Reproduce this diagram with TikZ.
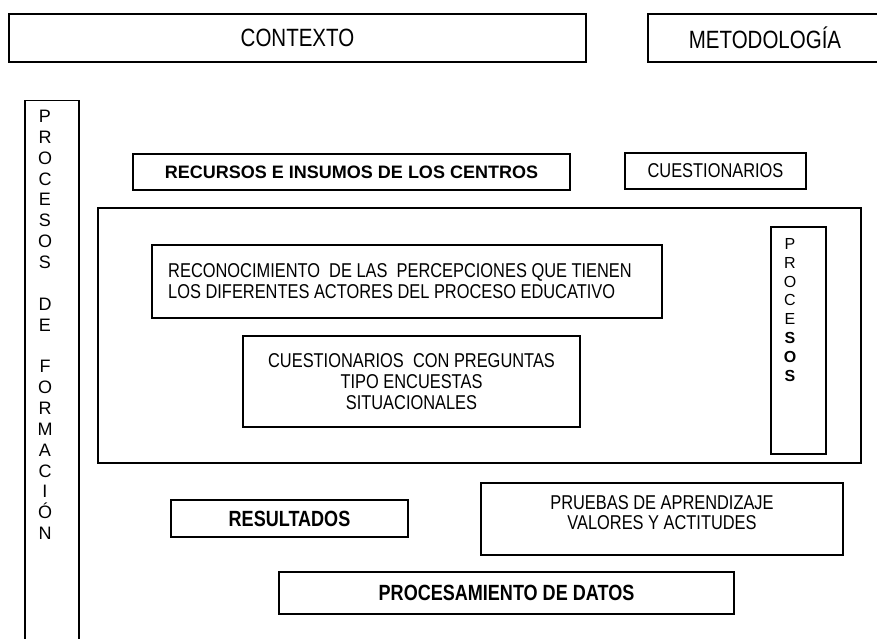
\documentclass[tikz,border=0pt]{standalone}
\usepackage{fontspec}
\setmainfont{Liberation Sans}
\newfontfamily\narrowfont{Liberation Sans}[FakeStretch=0.82]
\usetikzlibrary{positioning}

\begin{document}
\begin{tikzpicture}[
  x=1pt, y=-1pt,
  box/.style = {draw, line width=1.2pt, inner sep=0pt, align=center},
  topbox/.style = {box, line width=1.6pt, minimum height=48pt},
  bigtxt/.style = {font=\narrowfont\fontsize{25}{27}\selectfont},
  txt/.style = {font=\narrowfont\fontsize{20}{21}\selectfont},
  boldtxt/.style = {font=\narrowfont\bfseries\fontsize{22}{24}\selectfont},
  letters/.style = {align=center, inner sep=0pt, anchor=north}
]
  \useasboundingbox (0,0) rectangle (877,638);
  \clip (0,0) rectangle (877,638);

  % Contexto y metodologia
  \node[topbox, bigtxt, minimum width=577pt] (contexto) at (297.5,38) {CONTEXTO};
  \node[topbox, bigtxt, minimum width=234pt] (metodologia) at (765,38) {METODOLOGÍA};

  % Procesos de formacion
  \node[box, minimum width=54pt, minimum height=560pt, anchor=north] (formacion) at (52,100) {};
  \node[letters, font=\fontsize{18}{20.85}\selectfont] (formaciontxt) at (45,110)
    {P\\R\\O\\C\\E\\S\\O\\S\\[20.85pt]D\\E\\[20.85pt]F\\O\\R\\M\\A\\C\\I\\Ó\\N};

  % Recursos y cuestionarios
  \node[box, minimum width=437pt, minimum height=36pt, font=\bfseries\fontsize{18}{20}\selectfont] (recursos) at (351.5,172) {RECURSOS E INSUMOS DE LOS CENTROS};
  \node[box, txt, minimum width=181pt, minimum height=36pt] (cuestionarios) at (715.5,171) {CUESTIONARIOS};

  % Marco del proceso
  \node[box, minimum width=763pt, minimum height=255pt] (proceso) at (479.5,335.5) {};
  \node[box, txt, minimum width=510pt, minimum height=73pt, align=left] (reconocimiento) at (407,281.5)
    {RECONOCIMIENTO\ \ DE LAS\ \ PERCEPCIONES QUE TIENEN\hspace*{14pt}\\LOS DIFERENTES ACTORES DEL PROCESO EDUCATIVO};
  \node[box, txt, minimum width=337pt, minimum height=91pt] (encuestas) at (411.5,381.5)
    {CUESTIONARIOS\ \ CON PREGUNTAS\\TIPO ENCUESTAS\\SITUACIONALES};
  \node[box, minimum width=55pt, minimum height=227pt] (procesos) at (798.5,340.5) {};
  \node[letters, font=\fontsize{16}{18.9}\selectfont] (procesostxt) at (790,238)
    {P\\R\\O\\C\\E\\\textbf{S}\\\textbf{O}\\\textbf{S}};

  % Resultados
  \node[box, boldtxt, minimum width=237pt, minimum height=37pt] (resultados) at (289.5,518.5) {RESULTADOS};
  \node[box, minimum width=362pt, minimum height=72pt] (pruebas) at (662,519) {};
  \node[align=center, inner sep=0pt, font=\narrowfont\fontsize{20}{19.5}\selectfont] (pruebastxt) at (662,512.5)
    {PRUEBAS DE APRENDIZAJE\\VALORES Y ACTITUDES};
  \node[box, boldtxt, minimum width=455pt, minimum height=42pt] (procesamiento) at (506.5,593) {PROCESAMIENTO DE DATOS};

\end{tikzpicture}
\end{document}
